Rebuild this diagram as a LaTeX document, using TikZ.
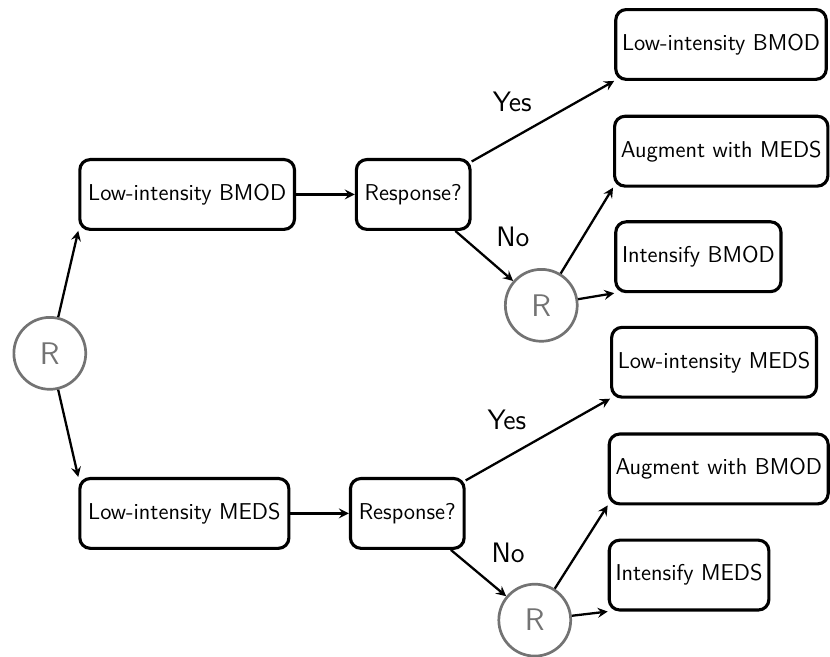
\documentclass[tikz,border=0pt]{standalone}
\usepackage{tikz}
\usetikzlibrary{positioning}

\begin{document}
\begin{tikzpicture}[
		box/.style = {draw, line width = 1.5pt, rounded corners = 5pt, minimum height = 33.5pt, inner xsep = 4pt, font = \sffamily\fontsize{11pt}{13pt}\selectfont},
		rbox/.style = {box, anchor = west, inner xsep = 3pt},
		rand/.style = {draw = black!55, text = black!55, circle, line width = 1.3pt, minimum size = 34.5pt, font = \sffamily\fontsize{15pt}{18pt}\selectfont},
		lbl/.style = {font = \sffamily\fontsize{13.5pt}{16pt}\selectfont}
	]
	\useasboundingbox (0,0) rectangle (14,11.07);
	\begin{scope}
		\node [rand] (r0) at (0.84,5.11) {R};
		\node [box, anchor = west] (bmod) at (1.32,7.79) {Low-intensity BMOD};
		\node [box, anchor = west] (meds) at (1.32,2.41) {Low-intensity MEDS};
		\node [box] (resp1) at (6.97,7.79) {Response?};
		\node [box] (resp2) at (6.87,2.41) {Response?};
		\node [rand] (r1) at (9.13,5.92) {R};
		\node [rand] (r2) at (9.02,0.61) {R};
	\end{scope}
	\begin{scope}
		\node [rbox] (bmodlow) at (10.36,10.32) {Low-intensity BMOD};
		\node [rbox] (augmeds) at (10.34,8.52) {Augment with MEDS};
		\node [rbox] (intbmod) at (10.36,6.74) {Intensify BMOD};
		\node [rbox] (medslow) at (10.29,4.96) {Low-intensity MEDS};
		\node [rbox] (augbmod) at (10.25,3.16) {Augment with BMOD};
		\node [rbox] (intmeds) at (10.25,1.37) {Intensify MEDS};
	\end{scope}
	\begin{scope}
		\node [lbl] (yes1) at (8.64,9.35) {Yes};
		\node [lbl] (no1) at (8.65,7.07) {No};
		\node [lbl] (yes2) at (8.55,3.98) {Yes};
		\node [lbl] (no2) at (8.57,1.75) {No};
	\end{scope}
	\begin{scope}[-stealth, line width = 1.1pt]
		\draw (r0) -- (bmod.south west);
		\draw (r0) -- (meds.north west);
		\draw (bmod) -- (resp1);
		\draw (meds) -- (resp2);
		\draw (resp1) -- (bmodlow.south west);
		\draw (resp1) -- (r1);
		\draw (r1) -- (augmeds.south west);
		\draw (r1) -- (intbmod.south west);
		\draw (resp2) -- (medslow.south west);
		\draw (resp2) -- (r2);
		\draw (r2) -- (augbmod.south west);
		\draw (r2) -- (intmeds.south west);
	\end{scope}
\end{tikzpicture}
\end{document}
